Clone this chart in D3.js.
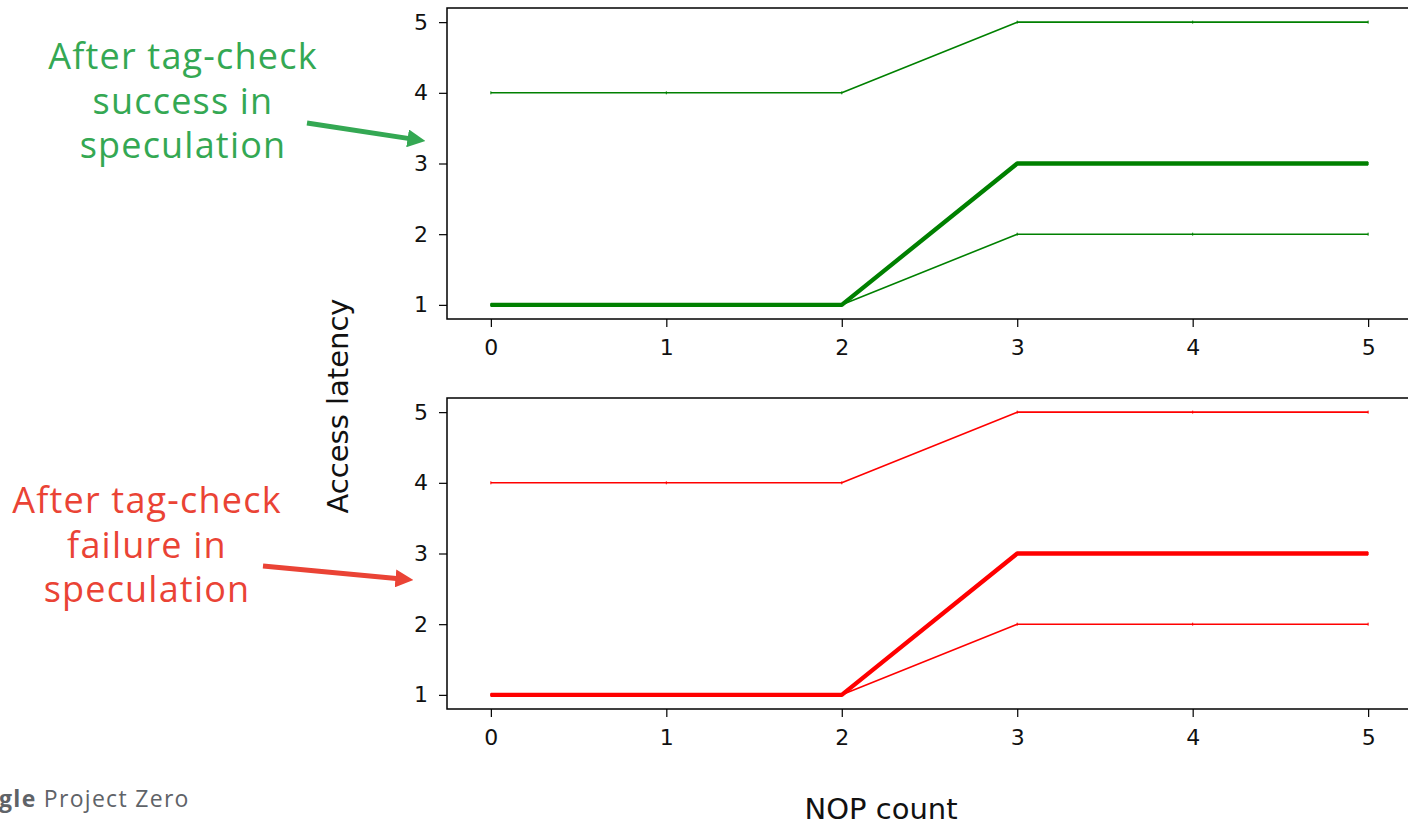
<!DOCTYPE html>
<html>
<head>
<meta charset="utf-8">
<script src="https://cdn.jsdelivr.net/npm/d3@7"></script>
<style>
  body { margin: 0; background: #fff; }
  svg { display: block; }
</style>
</head>
<body>
<svg id="chart" width="1408" height="825"></svg>
<script>
// data
const nopCount = [0, 1, 2, 3, 4, 5];
const upperLatency = [4, 4, 4, 5, 5, 5];
const medianLatency = [1, 1, 1, 3, 3, 3];
const lowerLatency = [1, 1, 1, 2, 2, 2];
const xTicks = [0, 1, 2, 3, 4, 5];
const yTicks = [1, 2, 3, 4, 5];

const panels = [
    {colour: "#008000", top: 8, bottom: 319},
    {colour: "#ff0000", top: 398, bottom: 709}
];

const left = 447, right = 1412;

const svg = d3.select("#chart");

const x = d3.scaleLinear([-0.25, 5.25], [left, right]);

const series = [
    {values: upperLatency, w: 1.6},
    {values: lowerLatency, w: 1.6},
    {values: medianLatency, w: 4.3}
];

panels.forEach(p => {
    const y = d3.scaleLinear([0.8, 5.2], [p.bottom, p.top]);
    const g = svg.append("g");

    const line = d3.line()
        .x((d, i) => x(nopCount[i]))
        .y(d => y(d));

    series.forEach(s => {
        g.append("path")
            .datum(s.values)
            .attr("d", line)
            .attr("fill", "none")
            .attr("stroke", p.colour)
            .attr("stroke-width", s.w)
            .attr("stroke-linejoin", "round");
        // tiny point markers
        g.selectAll(null)
            .data(s.values)
            .join("line")
            .attr("x1", (d, i) => x(nopCount[i]))
            .attr("x2", (d, i) => x(nopCount[i]))
            .attr("y1", d => y(d) - 1.5)
            .attr("y2", d => y(d) + 1.5)
            .attr("stroke", p.colour)
            .attr("stroke-width", 1);
    });

    // frame
    g.append("rect")
        .attr("x", left).attr("y", p.top)
        .attr("width", right - left).attr("height", p.bottom - p.top)
        .attr("fill", "none").attr("stroke", "#000").attr("stroke-width", 1.5);

    const xa = g.append("g")
        .attr("transform", `translate(0,${p.bottom})`)
        .call(d3.axisBottom(x).tickValues(xTicks).tickSize(8).tickPadding(12).tickFormat(d3.format("d")));
    const ya = g.append("g")
        .attr("transform", `translate(${left},0)`)
        .call(d3.axisLeft(y).tickValues(yTicks).tickSize(8).tickPadding(11).tickFormat(d3.format("d")));
    [xa, ya].forEach(a => {
        a.attr("font-size", 22).attr("font-family", "DejaVu Sans");
        a.select(".domain").remove();
        a.selectAll(".tick line").attr("stroke", "#000").attr("stroke-width", 1.2);
        a.selectAll(".tick text").attr("fill", "#111");
    });
});

// axis titles
svg.append("text")
    .attr("transform", "translate(348,406) rotate(-90)")
    .attr("text-anchor", "middle")
    .attr("font-family", "DejaVu Sans")
    .attr("font-size", 29)
    .attr("fill", "#111")
    .text("Access latency");

svg.append("text")
    .attr("x", 881).attr("y", 819)
    .attr("text-anchor", "middle")
    .attr("font-family", "DejaVu Sans")
    .attr("font-size", 29)
    .attr("fill", "#111")
    .text("NOP count");

// annotations
const notes = [
    {lines: ["After tag-check", "success in", "speculation"], cx: 183, y0: 69, colour: "#34a853",
     arrow: [[307, 123], [425, 141]]},
    {lines: ["After tag-check", "failure in", "speculation"], cx: 147, y0: 513, colour: "#ea4335",
     arrow: [[263, 566], [413, 580]]}
];

const defs = svg.append("defs");
notes.forEach((n, k) => {
    defs.append("marker")
        .attr("id", "head" + k)
        .attr("viewBox", "0 0 10 10")
        .attr("refX", 2).attr("refY", 5)
        .attr("markerWidth", 3.6).attr("markerHeight", 3.6)
        .attr("orient", "auto")
        .append("path")
        .attr("d", "M0,0L10,5L0,10Z")
        .attr("fill", n.colour);

    svg.append("text")
        .attr("text-anchor", "middle")
        .attr("font-family", "Open Sans")
        .attr("font-size", 36)
        .attr("letter-spacing", 1.2)
        .attr("fill", n.colour)
        .selectAll("tspan")
        .data(n.lines)
        .join("tspan")
        .attr("x", n.cx)
        .attr("y", (d, i) => n.y0 + i * 44.5)
        .text(d => d);

    const [a, b] = n.arrow;
    const dx = b[0] - a[0], dy = b[1] - a[1], len = Math.hypot(dx, dy);
    svg.append("line")
        .attr("x1", a[0]).attr("y1", a[1])
        .attr("x2", b[0] - dx / len * 14).attr("y2", b[1] - dy / len * 14)
        .attr("stroke", n.colour)
        .attr("stroke-width", 5)
        .attr("marker-end", `url(#head${k})`);
});

// footer (logo word cut by the left edge, as in the slide)
const foot = svg.append("text")
    .attr("x", -50).attr("y", 807)
    .attr("font-family", "Open Sans")
    .attr("font-size", 23)
    .attr("letter-spacing", 1.3)
    .attr("fill", "#5f6368");
foot.append("tspan").attr("font-weight", "bold").text("Google");
foot.append("tspan").text(" Project Zero");
</script>
</body>
</html>
